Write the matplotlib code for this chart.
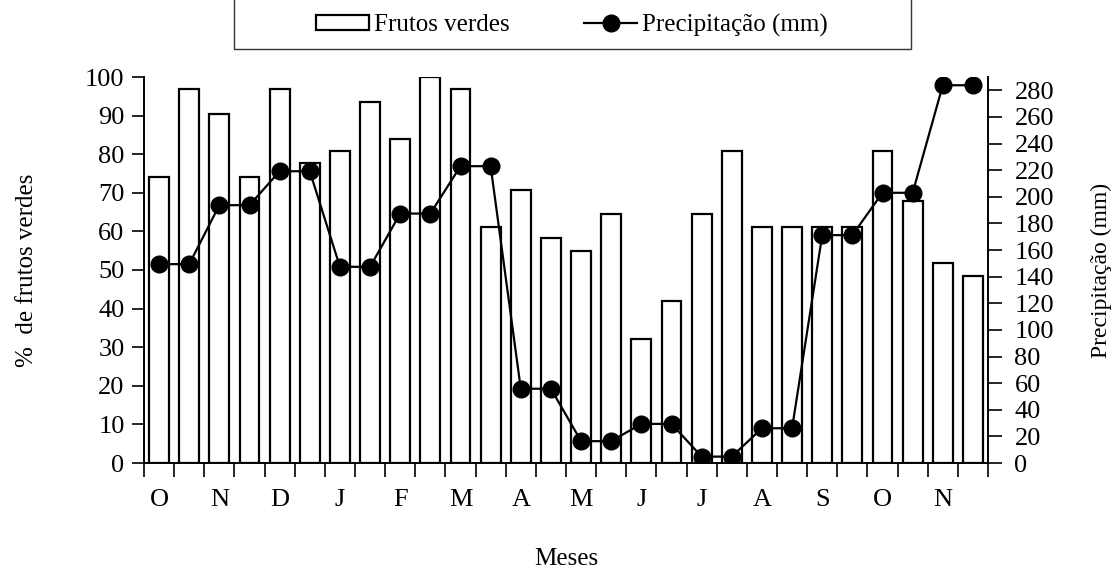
import numpy as np
import matplotlib
matplotlib.use('Agg')
import matplotlib.pyplot as plt
from matplotlib.patches import Rectangle
from matplotlib.ticker import FixedLocator

plt.rcParams['font.family'] = ['Liberation Serif', 'DejaVu Serif']

months = ['O', 'N', 'D', 'J', 'F', 'M', 'A', 'M', 'J', 'J', 'A', 'S', 'O', 'N']
frutos_verdes = [74.2, 96.8, 90.4, 74.2, 96.8, 77.6, 80.8, 93.4, 83.9, 100, 96.8, 61.2, 70.8, 58.2,
                 55.0, 64.6, 32.2, 42.0, 64.6, 80.8, 61.2, 61.2, 61.2, 61.2, 80.8, 68.0, 51.7, 48.4]
precipitacao = [149.4, 149.4, 193.7, 193.7, 219.2, 219.2, 147.4, 147.4, 187.4, 187.4, 223, 223, 55.8, 55.8,
                16.4, 16.4, 29.4, 29.4, 4.8, 4.8, 26.1, 26.1, 171.2, 171.2, 203, 203, 283.8, 283.8]

W, H = 1118, 569
fig = plt.figure(figsize=(W / 100, H / 100), dpi=100)
ax = fig.add_axes([144 / W, 1 - 463 / H, (988 - 144) / W, (463 - 77) / H])
ax2 = ax.twinx()

x = np.arange(len(frutos_verdes))
bars = ax.bar(x, frutos_verdes, width=0.66, color='white', edgecolor='black', linewidth=1.6,
              label='Frutos verdes', zorder=2)
line, = ax2.plot(x, precipitacao, '-o', color='black', linewidth=1.6, markersize=12,
                 label='Precipitação (mm)', zorder=3)

ax.set_xlim(-0.5, len(x) - 0.5)
ax.set_ylim(0, 100)
ax2.set_ylim(0, 290)
ax.set_yticks(np.arange(0, 101, 10))
ax2.set_yticks(np.arange(0, 281, 20))

ax.set_xticks(np.arange(0, len(x), 2))
ax.set_xticklabels(months)
ax.xaxis.set_minor_locator(FixedLocator(np.arange(-0.5, len(x), 1)))
ax.tick_params(axis='x', which='major', length=0, pad=19, labelsize=19)
ax.tick_params(axis='x', which='minor', length=10, width=1.2, direction='out')
ax.tick_params(axis='y', length=9, width=1.2, pad=5, labelsize=19)
ax2.tick_params(axis='y', length=10, width=1.2, pad=9, labelsize=19)

for a in (ax, ax2):
    a.spines['top'].set_visible(False)
    for s in ('left', 'right', 'bottom'):
        a.spines[s].set_linewidth(1.2)

ax.set_ylabel('%  de frutos verdes', fontsize=18)
ax.yaxis.set_label_coords(-0.1256, 0.5)
ax2.set_ylabel('Precipitação (mm)', fontsize=17)
ax2.yaxis.set_label_coords(1.122, 0.5)
ax.set_xlabel('Meses', fontsize=18)
ax.xaxis.set_label_coords(0.5, -0.22)

# legend box (top edge falls outside the figure)
fig.patches.append(Rectangle((234 / W, 1 - 49 / H), (911 - 234) / W, 0.2,
                             transform=fig.transFigure, facecolor='none',
                             edgecolor='#333333', linewidth=1.0))
fig.legend(handles=[bars, line], loc='center', bbox_to_anchor=(572 / W, 1 - 25 / H),
           ncol=2, frameon=False, fontsize=18, handlelength=2.1, handleheight=0.55,
           handletextpad=0.2, columnspacing=3.0, borderpad=0)

fig.savefig('out.png', dpi=100)
